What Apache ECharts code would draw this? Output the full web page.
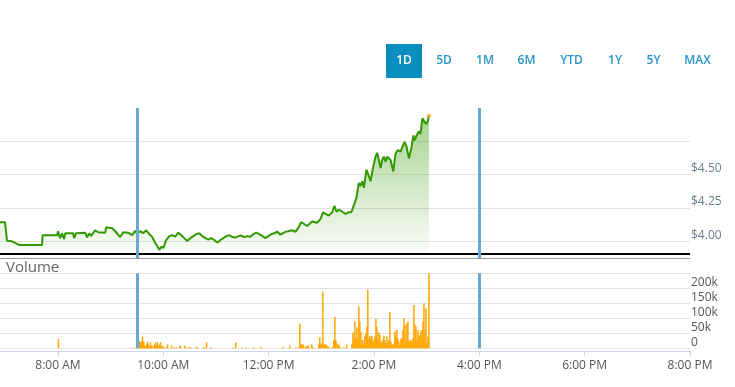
<!DOCTYPE html>
<html>
<head>
<meta charset="utf-8">
<script src="https://cdn.jsdelivr.net/npm/echarts@6/dist/echarts.min.js"></script>
<style>html,body{margin:0;padding:0;background:#fff;}#c{width:735px;height:387px;}</style>
</head>
<body>
<div id="c"></div>
<script>
// Time in minutes since midnight
const axisMinMinute = 414;
const axisMaxMinute = 1200;
const timeTicks = [480, 600, 720, 840, 960, 1080, 1200];
const sessionMarkers = [570, 960];
const previousClose = 3.914;
const priceGridValues = [4.00, 4.25, 4.50, 4.75];
const priceLabelValues = [4.00, 4.25, 4.50];
const rangeButtons = ['1D', '5D', '1M', '6M', 'YTD', '1Y', '5Y', 'MAX'];

const pricePoints = [
  [414,4.144],[419.7,4.144],[422,4.004],[427.7,4.000],[435.7,3.973],[461.9,3.973],[462.5,4.046],
  [479,4.046],[480.2,4.076],[482.4,4.024],[484.7,4.060],[487,4.017],[488.2,4.060],[497.3,4.060],
  [498.4,4.024],[500.7,4.060],[511,4.065],[513.3,4.030],[515.5,4.060],[517.8,4.040],[522.4,4.083],
  [525.8,4.068],[533.8,4.065],[534.9,4.105],[541.8,4.098],[546.3,4.068],[550.9,4.032],[554.3,4.068],
  [560,4.065],[564.6,4.046],[568,4.080],[570.3,4.054],
  [573.7,4.076],[577.1,4.061],[580.6,4.083],[584,4.054],[587.4,4.032],[590.8,3.988],[593.1,3.965],
  [595.4,3.936],[597.7,3.958],[600,3.951],[603.4,4.010],[606.8,4.039],[610.2,4.046],[613.6,4.035],
  [617.1,4.065],[620.5,4.046],[623.9,4.024],[627.3,4.002],[630.8,4.024],[634.2,4.039],[637.6,4.054],
  [641,4.061],[644.4,4.039],[647.9,4.024],[651.3,4.013],[654.7,4.024],[658.1,4.010],[661.6,3.991],
  [665,4.010],[668.4,4.024],[671.8,4.039],[675.2,4.046],[678.7,4.032],[682.1,4.028],[685.5,4.039],
  [688.9,4.043],[692.4,4.032],[695.8,4.039],[699.2,4.035],[702.6,4.054],[706,4.065],[709.5,4.054],
  [712.9,4.039],[716.3,4.024],[719.7,4.039],[723.2,4.054],[726.6,4.061],[730,4.072],[733.4,4.050],
  [739.1,4.071],[746.8,4.083],[750.5,4.071],[754.3,4.107],[757,4.144],[760,4.132],[763.9,4.115],
  [769.6,4.149],[775.3,4.139],[779.1,4.169],[782.1,4.218],[784.8,4.206],[788.5,4.193],[792.4,4.218],
  [795,4.267],[797.3,4.222],[799.9,4.237],[803.8,4.222],[807.6,4.206],[811.3,4.218],[814.1,4.218],
  [817,4.267],[820.1,4.328],[822.7,4.438],[824.7,4.414],[826.6,4.451],[828.5,4.401],[831.5,4.537],
  [834.2,4.488],[836.1,4.451],[839.2,4.561],[841.8,4.635],[843.7,4.664],[845.6,4.610],[847.5,4.549],
  [849.4,4.610],[851.3,4.635],[853.2,4.598],[855.1,4.635],[858.9,4.610],[862,4.524],[864.6,4.659],
  [867.2,4.684],[870.3,4.672],[872.3,4.708],[874.9,4.745],[877.2,4.708],[879.8,4.622],[882.5,4.696],
  [884.8,4.794],[886.3,4.757],[888.6,4.794],[891.2,4.826],[893.1,4.806],[895.1,4.923],[896.9,4.904],
  [899.6,4.879],[901.5,4.904],[902.6,4.941]
];

const volumeMinutes = [
  480.5,566.9,570.7,571.8,572.9,574.1,575.2,576.4,577.5,578.7,579.8,580.9,582.1,583.2,584.4,585.5,
  586.6,587.8,588.9,590.1,591.2,592.3,593.5,594.6,595.8,596.9,598.0,599.2,600.3,601.5,603.4,604.9,
  609.5,612.5,614.8,618.6,619.7,624.3,625.4,627.7,630.0,631.1,638.0,639.1,646.0,647.1,649.4,654.0,
  679.1,682.5,689.3,693.9,703.0,711.0,
  736.4,744.0,750.9,754.3,755.5,756.6,757.7,758.9,760.0,762.3,763.4,764.6,765.7,769.1,770.3,777.1,
  778.3,779.4,780.6,781.7,782.8,784.0,785.1,786.3,787.4,788.5,792.0,793.1,794.2,795.4,796.5,797.7,
  798.8,799.9,801.1,804.5,806.8,809.1,814.8,816.0,817.1,818.2,819.4,820.5,821.6,822.8,823.9,825.1,
  826.2,827.3,828.5,829.6,830.8,831.9,833.0,834.2,835.3,836.5,837.6,838.7,839.9,841.0,842.2,843.3,
  844.4,845.6,846.7,847.9,849.0,850.1,851.3,852.4,853.6,854.7,855.9,857.0,858.1,859.3,860.4,861.6,
  862.7,863.8,865.0,866.1,867.3,868.4,869.5,870.7,871.8,873.0,874.1,875.3,876.4,877.5,878.7,879.8,
  881.0,882.1,883.2,884.4,885.5,886.7,887.8,889.0,890.1,891.2,892.4,893.5,894.7,895.8,896.9,898.1,
  899.2,900.4,901.5,902.6
];
const volumeValues = [
  31000,3000,158000,5500,24000,22000,22000,39000,22000,11000,5500,13000,22000,13000,5500,20000,
  9000,3000,5500,13000,20000,11000,20000,5500,13000,20000,5500,9000,3000,2000,3000,13000,
  9000,3000,3000,5500,9000,9000,3000,3000,3000,3000,5500,3000,3000,3000,20000,3000,
  3000,20000,3000,3000,3000,5500,
  5500,9000,3000,3000,83000,13000,13000,13000,9000,5500,5500,9000,5500,13000,5500,13000,
  37000,13000,17000,189000,13000,13000,13000,9000,5500,5500,3000,3000,28000,105000,28000,17000,
  9000,13000,5500,3000,3000,13000,13000,53000,33000,89000,33000,69000,33000,139000,89000,56000,
  13000,28000,13000,39000,50000,72000,196000,33000,42000,33000,42000,28000,22000,39000,98000,72000,
  33000,53000,44000,22000,17000,28000,42000,28000,17000,39000,17000,28000,122000,22000,9000,13000,
  17000,56000,39000,61000,33000,22000,11000,33000,33000,61000,100000,78000,22000,83000,89000,28000,
  22000,28000,22000,33000,144000,80000,72000,28000,61000,44000,39000,56000,61000,89000,150000,61000,
  133000,17000,39000,250000
];

const FONT = 'Open Sans';
function fmtTime(m) {
  const h = Math.floor(m / 60), mm = Math.round(m % 60);
  const h12 = (h % 12) || 12;
  return h12 + ':' + (mm < 10 ? '0' + mm : mm) + ' ' + (h < 12 ? 'AM' : 'PM');
}
const volumeData = volumeMinutes.map((t, i) => [t, volumeValues[i]]);
const lastPoint = pricePoints[pricePoints.length - 1];

// range selector buttons
const btnCenters = [404, 444, 485, 526.5, 571.5, 615, 653.5, 697.5];
const graphics = [{ type: 'rect', left: 386, top: 44, shape: { width: 36, height: 34 }, style: { fill: '#0a8dbf' }, silent: true }];
rangeButtons.forEach((b, i) => {
  graphics.push({ type: 'text', x: btnCenters[i], y: 61, silent: true,
    style: { text: b, fill: i === 0 ? '#ffffff' : '#2a93c9', font: '600 12px "' + FONT + '"', align: 'center', verticalAlign: 'middle' } });
});

const chart = echarts.init(document.getElementById('c'));
chart.setOption({
  animation: false,
  backgroundColor: '#fff',
  textStyle: { fontFamily: FONT },
  title: { text: 'Volume', left: 6, top: 260, padding: 0, textStyle: { fontSize: 15, color: '#666', fontWeight: 'normal', fontFamily: FONT } },
  graphic: graphics,
  grid: [
    { left: 0, right: 45, top: 108, height: 150 },
    { left: 0, right: 45, top: 273.3, height: 75 }
  ],
  xAxis: [
    { gridIndex: 0, type: 'value', min: axisMinMinute, max: axisMaxMinute,
      axisLine: { show: true, onZero: false, lineStyle: { color: '#999', width: 1 } },
      axisTick: { show: false }, axisLabel: { show: false }, splitLine: { show: false } },
    { gridIndex: 1, type: 'value', min: axisMinMinute, max: axisMaxMinute, offset: 3,
      axisLine: { show: true, onZero: false, lineStyle: { color: '#ccd6eb', width: 1 } },
      axisTick: { show: true, customValues: timeTicks, length: 5, lineStyle: { color: '#ccd6eb' } },
      axisLabel: { customValues: timeTicks, formatter: fmtTime, color: '#555', fontSize: 12, margin: 8, fontFamily: FONT, showMinLabel: true, showMaxLabel: true },
      splitLine: { show: false } }
  ],
  yAxis: [
    { gridIndex: 0, type: 'value', position: 'right', min: 3.875, max: 5.0,
      axisLine: { show: false },
      axisTick: { show: false, customValues: priceGridValues },
      axisLabel: { customValues: priceLabelValues, formatter: v => '$' + v.toFixed(2), verticalAlign: 'bottom', margin: 1, color: '#6b7a8a', fontSize: 12, fontFamily: FONT },
      splitLine: { show: true, lineStyle: { color: '#e3e3e3', width: 1 } } },
    { gridIndex: 1, type: 'value', position: 'right', min: 0, max: 250000, interval: 50000,
      axisLine: { show: false }, axisTick: { show: false },
      axisLabel: { formatter: v => v >= 250000 ? '' : (v === 0 ? '0' : (v / 1000) + 'k'), verticalAlign: 'bottom', margin: 1, color: '#555', fontSize: 12, fontFamily: FONT },
      splitLine: { show: true, lineStyle: { color: '#e3e3e3', width: 1 } } }
  ],
  series: [
    { type: 'line', xAxisIndex: 0, yAxisIndex: 0, data: pricePoints, showSymbol: false, symbol: 'none',
      lineStyle: { color: '#339900', width: 2 },
      areaStyle: { origin: previousClose, color: new echarts.graphic.LinearGradient(0, 0, 0, 1, [
        { offset: 0, color: 'rgba(51,153,0,0.62)' }, { offset: 1, color: 'rgba(51,153,0,0.04)' }]) },
      markLine: { silent: true, symbol: 'none', label: { show: false },
        lineStyle: { color: '#6aa8d4', width: 3, type: 'solid' },
        data: [
          { yAxis: previousClose, lineStyle: { color: '#000', width: 2, type: 'solid' } },
          { xAxis: sessionMarkers[0] }, { xAxis: sessionMarkers[1] }
        ] },
      z: 2 },
    { type: 'scatter', xAxisIndex: 0, yAxisIndex: 0, data: [lastPoint], symbolSize: 4,
      itemStyle: { color: '#f7a21b' }, z: 5 },
    { type: 'bar', xAxisIndex: 1, yAxisIndex: 1, data: volumeData, barWidth: 1.5,
      itemStyle: { color: '#ffa500' },
      markLine: { silent: true, symbol: 'none', label: { show: false },
        lineStyle: { color: '#6aa8d4', width: 3, type: 'solid' },
        data: [{ xAxis: sessionMarkers[0] }, { xAxis: sessionMarkers[1] }] } }
  ]
});
</script>
</body>
</html>
